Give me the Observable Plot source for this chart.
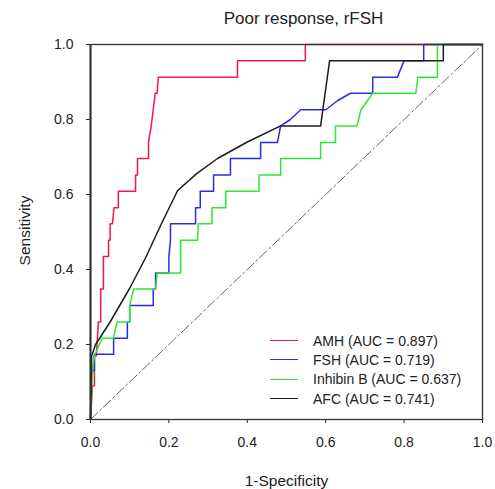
<!DOCTYPE html>
<html>
<head>
<meta charset="utf-8">
<script src="https://cdn.jsdelivr.net/npm/d3@7"></script>
<script src="https://cdn.jsdelivr.net/npm/@observablehq/plot@0.6"></script>
<style>
  html, body { margin: 0; padding: 0; background: #fff; }
  #wrap { position: relative; width: 495px; height: 489px; font-family: "Liberation Sans", Arial, sans-serif; }
  #legend { position: absolute; left: 270px; top: 331px; font-size: 14px; color: #222; }
  #legend .row { display: flex; align-items: center; height: 19.3px; }
  #legend .sw { width: 28px; height: 0; border-top: 1.6px solid; margin-right: 15px; }
</style>
</head>
<body>
<div id="wrap"><div id="legend"></div></div>
<script>
// ---- Data ----
const title = "Poor response, rFSH";
const xLabel = "1-Specificity";
const yLabel = "Sensitivity";
const tickValues = [0, 0.2, 0.4, 0.6, 0.8, 1.0];

const seriesNames = ["AMH", "FSH", "Inhibin B", "AFC"];
const seriesAUC = ["0.897", "0.719", "0.637", "0.741"];
const seriesColors = ["#f2184c", "#2b2be6", "#2ee82e", "#1c1c1c"];

const amhFpr = [0,0.005,0.01,0.01,0.015,0.02,0.026,0.026,0.033,0.033,0.046,0.046,0.05,0.05,0.056,0.06,0.071,0.071,0.115,0.115,0.12,0.12,0.148,0.148,0.155,0.16,0.165,0.17,0.173,0.375,0.375,0.548,0.548,1];
const amhTpr = [0,0.09,0.09,0.17,0.17,0.26,0.26,0.348,0.348,0.435,0.435,0.478,0.478,0.522,0.522,0.565,0.565,0.609,0.609,0.652,0.652,0.696,0.696,0.74,0.783,0.826,0.87,0.87,0.913,0.913,0.957,0.957,1,1];

const fshFpr = [0,0.003,0.01,0.01,0.059,0.059,0.094,0.094,0.1,0.1,0.16,0.16,0.166,0.166,0.2,0.2,0.204,0.204,0.268,0.268,0.28,0.28,0.314,0.314,0.357,0.357,0.434,0.434,0.477,0.485,0.51,0.536,0.6,0.63,0.663,0.72,0.72,0.783,0.8,0.85,0.85,1];
const fshTpr = [0,0.13,0.13,0.174,0.174,0.217,0.217,0.261,0.261,0.304,0.304,0.348,0.348,0.391,0.391,0.435,0.478,0.522,0.522,0.565,0.565,0.609,0.609,0.652,0.652,0.696,0.696,0.739,0.739,0.783,0.8,0.826,0.826,0.85,0.87,0.87,0.913,0.913,0.957,0.957,1,1];

const inhFpr = [0,0.005,0.01,0.03,0.058,0.068,0.1,0.1,0.11,0.166,0.17,0.23,0.23,0.273,0.275,0.31,0.31,0.345,0.345,0.43,0.43,0.485,0.485,0.587,0.587,0.625,0.625,0.68,0.69,0.72,0.83,0.835,0.885,0.885,1];
const inhTpr = [0,0.13,0.17,0.217,0.217,0.26,0.26,0.304,0.348,0.348,0.391,0.391,0.478,0.478,0.522,0.522,0.565,0.565,0.609,0.609,0.652,0.652,0.696,0.696,0.739,0.739,0.783,0.783,0.826,0.87,0.87,0.913,0.913,1,1];

const afcFpr = [0,0.003,0.013,0.05,0.1,0.14,0.18,0.222,0.27,0.324,0.4,0.485,0.587,0.61,0.9,0.9,1];
const afcTpr = [0,0.17,0.2,0.26,0.35,0.43,0.52,0.61,0.655,0.696,0.74,0.783,0.783,0.957,0.957,1,1];

const diagX = [0, 1];
const diagY = [0, 1];

// ---- Build tables ----
const fprs = [amhFpr, fshFpr, inhFpr, afcFpr];
const tprs = [amhTpr, fshTpr, inhTpr, afcTpr];
const rows = [];
seriesNames.forEach((name, k) => {
  fprs[k].forEach((f, i) => rows.push({series: name, fpr: f, tpr: tprs[k][i]}));
});
const diag = diagX.map((x, i) => ({x, y: diagY[i]}));

const chart = Plot.plot({
  width: 495,
  height: 489,
  marginLeft: 90,
  marginRight: 13,
  marginTop: 44,
  marginBottom: 70,
  style: {fontFamily: '"Liberation Sans", Arial, sans-serif', fontSize: "14px", color: "#222", background: "transparent"},
  x: {domain: [0, 1], ticks: tickValues, tickFormat: d3.format(".1f"), tickSize: 4, tickPadding: 14, label: null},
  y: {domain: [0, 1], ticks: tickValues, tickFormat: d3.format(".1f"), tickSize: 4, tickPadding: 13, label: null},
  color: {domain: seriesNames, range: seriesColors},
  marks: [
    Plot.line(diag, {x: "x", y: "y", stroke: "#666", strokeWidth: 1, strokeDasharray: "10,3,2,3"}),
    Plot.line(rows, {x: "fpr", y: "tpr", z: "series", stroke: "series", strokeWidth: 1.5, curve: "linear"}),
    Plot.frame({stroke: "#333", strokeWidth: 1.3}),
    Plot.ruleX([0], {stroke: "#333", strokeWidth: 2}),
    Plot.text([title], {frameAnchor: "top", textAnchor: "middle", lineAnchor: "middle", dx: 17, dy: -26, fontSize: 17, fill: "#222"}),
    Plot.text([xLabel], {frameAnchor: "bottom", textAnchor: "middle", lineAnchor: "middle", dy: 62, fontSize: 15.5, fill: "#222"}),
    Plot.text([yLabel], {frameAnchor: "left", textAnchor: "middle", lineAnchor: "middle", dx: -65, dy: -1.5, rotate: -90, fontSize: 15.5, fill: "#222"})
  ]
});
const wrap = document.getElementById("wrap");
wrap.insertBefore(chart, wrap.firstChild);

const legend = document.getElementById("legend");
seriesNames.forEach((name, k) => {
  const row = document.createElement("div");
  row.className = "row";
  const sw = document.createElement("span");
  sw.className = "sw";
  sw.style.borderTopColor = seriesColors[k];
  const label = document.createElement("span");
  label.textContent = `${name} (AUC = ${seriesAUC[k]})`;
  row.appendChild(sw);
  row.appendChild(label);
  legend.appendChild(row);
});
</script>
</body>
</html>
